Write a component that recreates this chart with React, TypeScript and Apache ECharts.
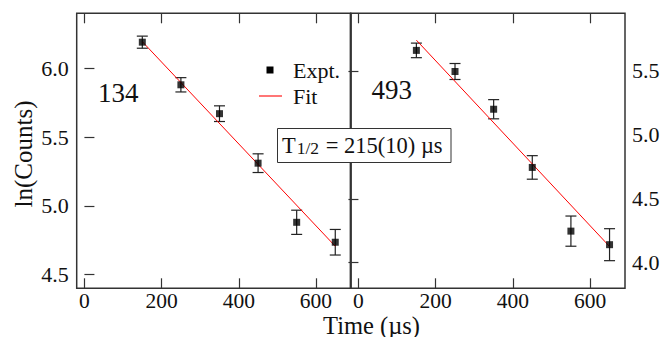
import React, { useEffect, useRef } from "react";
import * as echarts from "echarts";

// Delay times (µs) shared by both panels
const times = [150, 250, 350, 450, 550, 650];

// Panel "134": ln(counts) with uncertainties
const leftLnCounts = [6.19, 5.88, 5.67, 5.31, 4.88, 4.735];
const leftErr = [0.044, 0.052, 0.057, 0.068, 0.088, 0.093];
const leftFit = [
  [150, 6.194],
  [650, 4.706],
];

// Panel "493": ln(counts) with uncertainties
const rightLnCounts = [5.66, 5.495, 5.2, 4.745, 4.247, 4.141];
const rightErr = [0.057, 0.0625, 0.075, 0.092, 0.118, 0.125];
const rightFit = [
  [150, 5.74],
  [650, 4.127],
];

const xTicks = [0, 200, 400, 600];
const leftYTicks = [4.5, 5.0, 5.5, 6.0];
const rightYTicks = [4.0, 4.5, 5.0, 5.5];

const FONT = "Liberation Serif";
const INK = "#111";
const FRAME = "#333";

const grids = [
  { left: 76.7, top: 13.3, width: 274, height: 275 },
  { left: 350.7, top: 13.3, width: 274.3, height: 275 },
];

function errorBarSeries(xAxisIndex: number, yAxisIndex: number, ys: number[], errs: number[]) {
  return {
    type: "custom",
    xAxisIndex,
    yAxisIndex,
    data: times.map((t, i) => [t, ys[i] - errs[i], ys[i] + errs[i]]),
    renderItem: (_params: any, api: any) => {
      const lo = api.coord([api.value(0), api.value(1)]);
      const hi = api.coord([api.value(0), api.value(2)]);
      const cap = 5.5;
      const style = { stroke: "#222", lineWidth: 1.2 };
      return {
        type: "group",
        children: [
          { type: "line", shape: { x1: lo[0], y1: lo[1], x2: hi[0], y2: hi[1] }, style },
          { type: "line", shape: { x1: lo[0] - cap, y1: lo[1], x2: lo[0] + cap, y2: lo[1] }, style },
          { type: "line", shape: { x1: hi[0] - cap, y1: hi[1], x2: hi[0] + cap, y2: hi[1] }, style },
        ],
      };
    },
    z: 3,
  };
}

function xAxisPair(gridIndex: number) {
  const tick = {
    inside: true,
    length: 10,
    customValues: xTicks,
    lineStyle: { color: FRAME, width: 1.2 },
  };
  return [
    {
      type: "value",
      gridIndex,
      position: "bottom",
      min: -20,
      max: 690,
      axisLine: { show: false },
      axisTick: tick,
      splitLine: { show: false },
      axisLabel: {
        customValues: xTicks,
        fontFamily: FONT,
        fontSize: 21.5,
        color: INK,
        margin: 2,
      },
    },
    {
      type: "value",
      gridIndex,
      position: "top",
      min: -20,
      max: 690,
      axisLine: { show: false },
      axisTick: tick,
      splitLine: { show: false },
      axisLabel: { show: false },
    },
  ];
}

function yAxis(gridIndex: number, position: string, min: number, max: number, ticks: number[], margin: number) {
  return {
    type: "value",
    gridIndex,
    position,
    min,
    max,
    axisLine: { show: false },
    axisTick: {
      inside: true,
      length: 10,
      customValues: ticks,
      lineStyle: { color: FRAME, width: 1.2 },
    },
    splitLine: { show: false },
    axisLabel: {
      customValues: ticks,
      formatter: (v: number) => v.toFixed(1),
      fontFamily: FONT,
      fontSize: 22,
      color: INK,
      margin,
    },
  };
}

export default function App() {
  const ref = useRef<HTMLDivElement>(null);

  useEffect(() => {
    if (!ref.current) return;
    const chart = echarts.init(ref.current, null, { renderer: "svg" });
    const option = {
      animation: false,
      backgroundColor: "#fff",
      grid: grids.map((g) => ({
        ...g,
        show: true,
        borderColor: FRAME,
        borderWidth: 1.5,
        backgroundColor: "transparent",
      })),
      xAxis: [...xAxisPair(0), ...xAxisPair(1)],
      yAxis: [
        yAxis(0, "left", 4.4, 6.4, leftYTicks, 8),
        yAxis(1, "right", 3.8, 5.95, rightYTicks, 7),
      ],
      series: [
        errorBarSeries(0, 0, leftLnCounts, leftErr),
        {
          type: "line",
          xAxisIndex: 0,
          yAxisIndex: 0,
          data: leftFit,
          showSymbol: false,
          lineStyle: { color: "#ff0000", width: 1 },
          z: 4,
        },
        {
          type: "scatter",
          xAxisIndex: 0,
          yAxisIndex: 0,
          data: times.map((t, i) => [t, leftLnCounts[i]]),
          symbol: "rect",
          symbolSize: 7,
          itemStyle: { color: "#000" },
          z: 5,
        },
        errorBarSeries(2, 1, rightLnCounts, rightErr),
        {
          type: "line",
          xAxisIndex: 2,
          yAxisIndex: 1,
          data: rightFit,
          showSymbol: false,
          lineStyle: { color: "#ff0000", width: 1 },
          z: 4,
        },
        {
          type: "scatter",
          xAxisIndex: 2,
          yAxisIndex: 1,
          data: times.map((t, i) => [t, rightLnCounts[i]]),
          symbol: "rect",
          symbolSize: 7,
          itemStyle: { color: "#000" },
          z: 5,
        },
      ],
      graphic: [
        // panel divider
        {
          type: "line",
          shape: { x1: 350.7, y1: 13.3, x2: 350.7, y2: 288.3 },
          style: { stroke: "#333", lineWidth: 2 },
          z: 50,
        },
        // legend
        {
          type: "rect",
          shape: { x: 266.5, y: 66.5, width: 7, height: 7 },
          style: { fill: "#000" },
          z: 60,
        },
        {
          type: "text",
          x: 293,
          y: 70,
          style: { text: "Expt.", font: `22px "${FONT}"`, fill: INK, verticalAlign: "middle" },
          z: 60,
        },
        {
          type: "line",
          shape: { x1: 259, y1: 96, x2: 282, y2: 96 },
          style: { stroke: "#ff3b3b", lineWidth: 1.4 },
          z: 60,
        },
        {
          type: "text",
          x: 293,
          y: 96,
          style: { text: "Fit", font: `22px "${FONT}"`, fill: INK, verticalAlign: "middle" },
          z: 60,
        },
        // panel labels
        {
          type: "text",
          x: 98,
          y: 93,
          style: { text: "134", font: `27px "${FONT}"`, fill: INK, verticalAlign: "middle" },
          z: 60,
        },
        {
          type: "text",
          x: 371.5,
          y: 90,
          style: { text: "493", font: `27px "${FONT}"`, fill: INK, verticalAlign: "middle" },
          z: 60,
        },
        // half-life box
        {
          type: "rect",
          shape: { x: 277.5, y: 128.5, width: 173.5, height: 34 },
          style: { fill: "#fff", stroke: "#333", lineWidth: 1 },
          z: 100,
        },
        {
          type: "text",
          x: 282,
          y: 145.5,
          style: {
            text: "{t|T}{s|1/2}{t| = 215(10) µs}",
            verticalAlign: "middle",
            fill: INK,
            rich: {
              t: { fontFamily: FONT, fontSize: 22.5, fill: INK },
              s: { fontFamily: FONT, fontSize: 17.5, fill: INK, verticalAlign: "bottom", padding: [0, 1, 0, 1] },
            },
          },
          z: 101,
        },
        // axis titles
        {
          type: "text",
          x: 23,
          y: 154,
          rotation: Math.PI / 2,
          style: {
            text: "ln(Counts)",
            font: `25px "${FONT}"`,
            fill: INK,
            align: "center",
            verticalAlign: "middle",
          },
          z: 60,
        },
        {
          type: "text",
          x: 371.5,
          y: 325,
          style: {
            text: "Time (µs)",
            font: `24.5px "${FONT}"`,
            fill: INK,
            align: "center",
            verticalAlign: "middle",
          },
          z: 60,
        },
      ],
    };
    chart.setOption(option as any);
    return () => chart.dispose();
  }, []);

  return (
    <div
      ref={ref}
      style={{ position: "absolute", left: 0, top: 0, width: 663, height: 337 }}
    />
  );
}
